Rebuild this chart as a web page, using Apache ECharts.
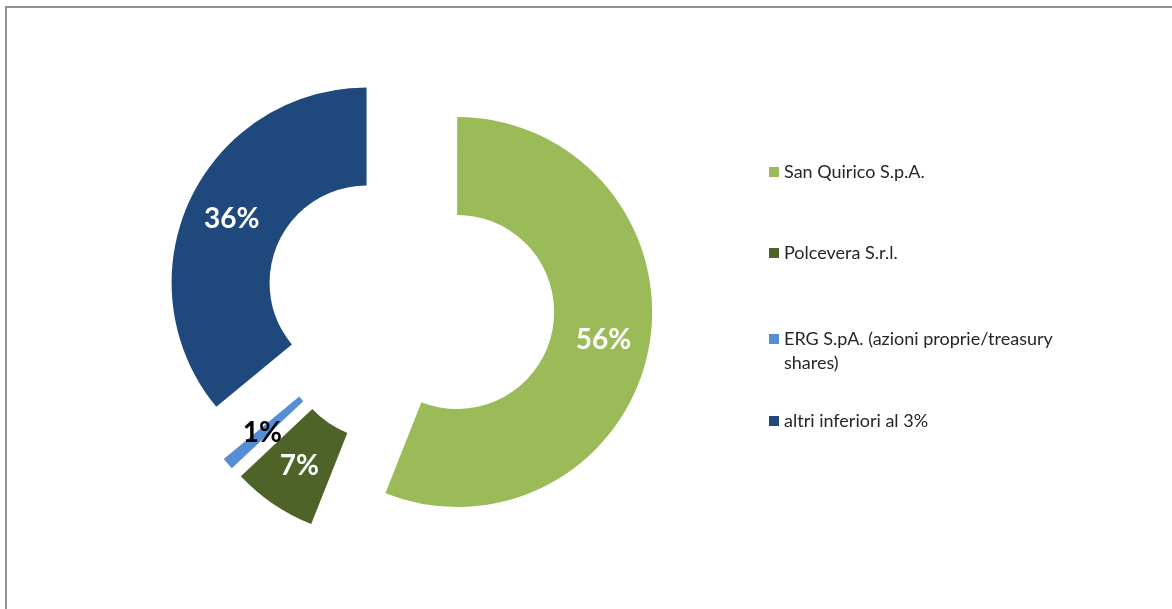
<!DOCTYPE html>
<html>
<head>
<meta charset="utf-8">
<script src="https://cdn.jsdelivr.net/npm/echarts@6/dist/echarts.min.js"></script>
<style>
  html, body { margin: 0; padding: 0; background: #ffffff; }
  #chart { width: 1172px; height: 609px; }
</style>
</head>
<body>
<div id="chart"></div>
<script>
const categories = ['San Quirico S.p.A.', 'Polcevera S.r.l.', 'ERG S.pA. (azioni proprie/treasury shares)', 'altri inferiori al 3%'];
const shares = [56, 7, 1, 36];
const colors = ['#9BBB59', '#4F6228', '#558ED5', '#1F497D'];
const labelColors = ['#ffffff', '#ffffff', '#000000', '#ffffff'];
const legendTops = [160, 241, 303, 409];

const chart = echarts.init(document.getElementById('chart'));

const legends = categories.map((name, i) => ({
  data: [name],
  orient: 'vertical',
  left: 769,
  top: legendTops[i],
  padding: 0,
  itemWidth: 10,
  itemHeight: 10,
  itemGap: 0,
  icon: 'rect',
  selectedMode: false,
  formatter: n => n === categories[2] ? '\nERG S.pA. (azioni proprie/treasury\nshares)' : n,
  textStyle: {
    fontFamily: 'Lato, "Open Sans", sans-serif',
    fontSize: 18,
    color: '#262626',
    lineHeight: 24
  }
}));

chart.setOption({
  animation: false,
  backgroundColor: '#ffffff',
  graphic: [{
    type: 'rect',
    shape: { x: 6, y: 7, width: 1300, height: 800 },
    style: { fill: 'none', stroke: '#8f8f8f', lineWidth: 2 },
    silent: true
  }],
  legend: legends,
  series: [{
    type: 'pie',
    center: [410, 303],
    radius: [97, 195],
    startAngle: 90,
    clockwise: true,
    selectedMode: 'multiple',
    selectedOffset: 48,
    avoidLabelOverlap: false,
    emphasis: { disabled: true },
    label: {
      show: true,
      position: 'inside',
      formatter: '{c}%',
      fontFamily: 'Lato, "Open Sans", sans-serif',
      fontWeight: 'bold',
      fontSize: 28
    },
    labelLine: { show: false },
    data: categories.map((name, i) => ({
      name: name,
      value: shares[i],
      selected: true,
      itemStyle: { color: colors[i] },
      label: { color: labelColors[i] }
    }))
  }]
});

// ECharts hides inside labels of very thin sectors; the reference shows the 1% label, so unhide it.
const pieData = chart.getModel().getSeriesByIndex(0).getData();
for (let i = 0; i < shares.length; i++) {
  const el = pieData.getItemGraphicEl(i);
  const txt = el && el.getTextContent();
  if (txt && txt.ignore) {
    txt.ignore = false;
    txt.markRedraw();
  }
}
chart.getZr().refresh();
</script>
</body>
</html>
